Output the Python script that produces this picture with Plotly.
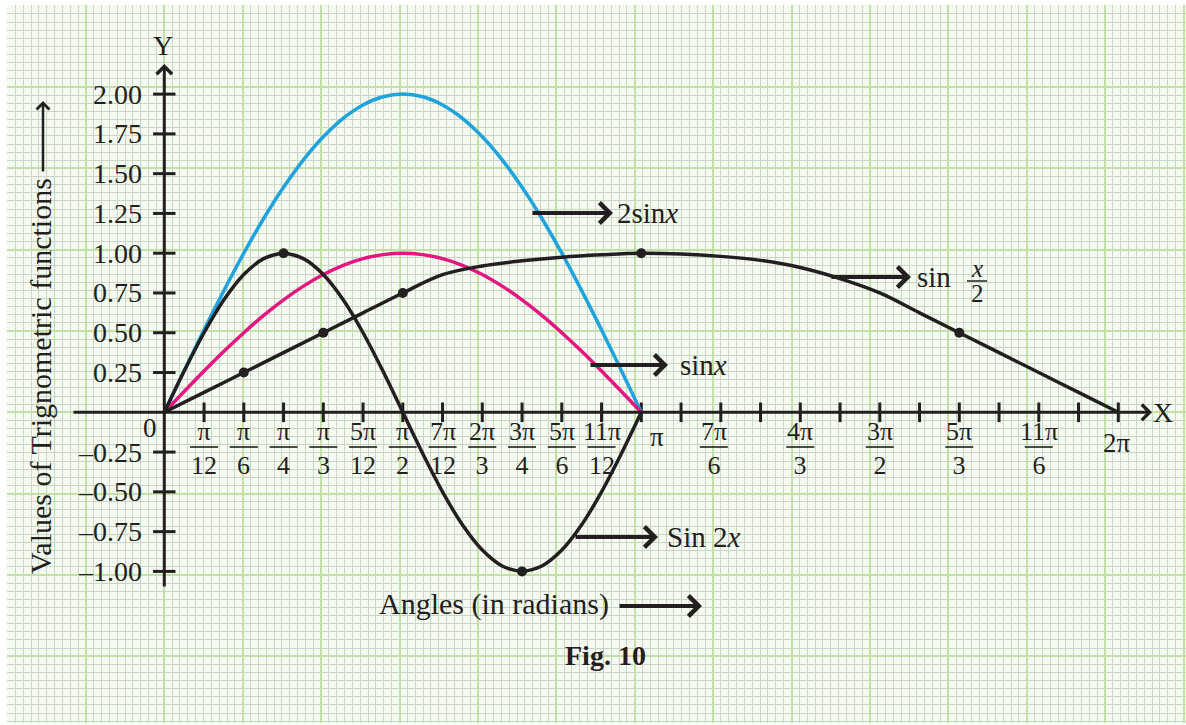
import math
import plotly.graph_objects as go

PI = math.pi

# ---------------- data ----------------
# 2sinx, sinx and sin2x sampled every pi/24 (k24 = multiples of pi/24)
k24 = list(range(25))
two_sinx = [0.000, 0.261, 0.518, 0.765, 1.000, 1.218, 1.414, 1.587, 1.732, 1.848, 1.932, 1.983, 2.000,
            1.983, 1.932, 1.848, 1.732, 1.587, 1.414, 1.218, 1.000, 0.765, 0.518, 0.261, 0.000]
sinx = [0.000, 0.131, 0.259, 0.383, 0.500, 0.609, 0.707, 0.793, 0.866, 0.924, 0.966, 0.991, 1.000,
        0.991, 0.966, 0.924, 0.866, 0.793, 0.707, 0.609, 0.500, 0.383, 0.259, 0.131, 0.000]
sin2x = [0.000, 0.259, 0.500, 0.707, 0.866, 0.966, 1.000, 0.966, 0.866, 0.707, 0.500, 0.259, 0.000,
         -0.259, -0.500, -0.707, -0.866, -0.966, -1.000, -0.966, -0.866, -0.707, -0.500, -0.259, 0.000]

# sin(x/2) as drawn in the figure, sampled every pi/12 (k12 = multiples of pi/12)
k12 = list(range(25))
sin_half = [0.00, 0.125, 0.25, 0.375, 0.50, 0.625, 0.75, 0.865, 0.92, 0.952, 0.975, 0.99, 1.00,
            0.995, 0.98, 0.955, 0.91, 0.84, 0.75, 0.625, 0.50, 0.375, 0.25, 0.125, 0.00]

sin2x_dot_k24 = [6, 18]
sin_half_dot_k12 = [2, 4, 6, 12, 20]

# axis ticks
x_tick_k12 = list(range(1, 25))
x_tick_frac = {1: ("π", "12"), 2: ("π", "6"), 3: ("π", "4"), 4: ("π", "3"),
               5: ("5π", "12"), 6: ("π", "2"), 7: ("7π", "12"), 8: ("2π", "3"),
               9: ("3π", "4"), 10: ("5π", "6"), 11: ("11π", "12"),
               14: ("7π", "6"), 16: ("4π", "3"), 18: ("3π", "2"),
               20: ("5π", "3"), 22: ("11π", "6")}
x_tick_single = {12: "π", 24: "2π"}
y_tick_vals = [-1.00, -0.75, -0.50, -0.25, 0.25, 0.50, 0.75, 1.00, 1.25, 1.50, 1.75, 2.00]
y_tick_text = ["–1.00", "–0.75", "–0.50", "–0.25", "0.25", "0.50", "0.75",
               "1.00", "1.25", "1.50", "1.75", "2.00"]

# ---------------- pixel calibration (layout only) ----------------
W, H = 1186, 725
X0PX, Y0PX = 164.3, 412.3
SX = 477.0 / PI        # px per radian
SY = 159.1             # px per unit
L, T, B = 7, 5, 2


def X(px):
    return (px - X0PX) / SX


def Y(py):
    return (Y0PX - py) / SY


def r12(k):
    return k * PI / 12


def r24(k):
    return k * PI / 24


FONT = "Liberation Serif, Times New Roman, serif"
INK = "#231f20"
CYAN = "#1ea3dc"
MAGENTA = "#e2177f"

fig = go.Figure()

# axis tick marks
fig.add_trace(go.Scatter(
    x=[r12(k) for k in x_tick_k12], y=[0] * len(x_tick_k12), mode="markers",
    marker=dict(symbol="line-ns", size=14, line=dict(width=3, color=INK)),
    hoverinfo="skip", showlegend=False))
fig.add_trace(go.Scatter(
    x=[0] * len(y_tick_vals), y=y_tick_vals, mode="markers",
    marker=dict(symbol="line-ew", size=16, line=dict(width=3, color=INK)),
    hoverinfo="skip", showlegend=False))

# curves
fig.add_trace(go.Scatter(x=[r24(k) for k in k24], y=two_sinx, mode="lines",
                         line=dict(color=CYAN, width=3.5, shape="spline", smoothing=0.8),
                         name="2sinx", showlegend=False))
fig.add_trace(go.Scatter(x=[r24(k) for k in k24], y=sinx, mode="lines",
                         line=dict(color=MAGENTA, width=3.5, shape="spline", smoothing=0.8),
                         name="sinx", showlegend=False))
fig.add_trace(go.Scatter(x=[r24(k) for k in k24], y=sin2x, mode="lines",
                         line=dict(color=INK, width=3.5, shape="spline", smoothing=0.8),
                         name="sin2x", showlegend=False))
fig.add_trace(go.Scatter(x=[r12(k) for k in k12], y=sin_half, mode="lines",
                         line=dict(color=INK, width=3.5, shape="spline", smoothing=1),
                         name="sin x/2", showlegend=False))
# dots
fig.add_trace(go.Scatter(x=[r24(k) for k in sin2x_dot_k24],
                         y=[sin2x[k24.index(k)] for k in sin2x_dot_k24],
                         mode="markers", marker=dict(color=INK, size=10),
                         showlegend=False, hoverinfo="skip"))
fig.add_trace(go.Scatter(x=[r12(k) for k in sin_half_dot_k12],
                         y=[sin_half[k12.index(k)] for k in sin_half_dot_k12],
                         mode="markers", marker=dict(color=INK, size=10),
                         showlegend=False, hoverinfo="skip"))

ann = []
shapes = []


def txt(px, py, s, size=27, xanchor="center", **kw):
    ann.append(dict(x=X(px), y=Y(py), xref="x", yref="y", text=s, showarrow=False,
                    font=dict(family=FONT, size=size, color=INK),
                    xanchor=xanchor, yanchor="middle", **kw))


def arrow(px0, py0, px1, py1, width=4, size=1.0):
    ann.append(dict(x=X(px1), y=Y(py1), ax=X(px0), ay=Y(py0), xref="x", yref="y",
                    axref="x", ayref="y", text="", showarrow=True, arrowhead=4,
                    arrowwidth=width, arrowsize=size, arrowcolor=INK, standoff=0))


# axes with arrow heads
arrow(72, Y0PX, 1152, Y0PX, width=3, size=1.0)
arrow(X0PX, 588, X0PX, 64, width=3, size=1.0)
txt(1163, 412, "X", size=28)
txt(163, 45, "Y", size=28)
txt(150, 428, "0", size=27)

# x tick labels (stacked fractions with a bar)
frac_off = {14: -7}
for k, (num, den) in x_tick_frac.items():
    cx = X0PX + r12(k) * SX + frac_off.get(k, 0)
    txt(cx, 448, num + "<br>" + den, size=26)
    shapes.append(dict(type="line", xref="x", yref="y", x0=X(cx - 14), x1=X(cx + 14),
                       y0=Y(447), y1=Y(447), line=dict(color=INK, width=1.6)))
single_off = {12: 16, 24: -1}
single_y = {12: 437, 24: 443}
for k, s in x_tick_single.items():
    txt(X0PX + r12(k) * SX + single_off[k], single_y[k], s)

# y tick labels
for v, s in zip(y_tick_vals, y_tick_text):
    ann.append(dict(x=0, y=v, xref="x", yref="y", text=s, showarrow=False,
                    font=dict(family=FONT, size=28, color=INK),
                    xanchor="right", yanchor="middle", xshift=-20))

# curve labels
arrow(531, 213, 613, 213)
txt(615, 213, "2sin<i>x</i>", size=29, xanchor="left")
arrow(589, 365, 668, 365)
txt(678, 365, "sin<i>x</i>", size=29, xanchor="left")
arrow(830, 277, 911, 277)
txt(915, 277, "sin", size=29, xanchor="left")
txt(977, 268, "<i>x</i>", size=25)
txt(977, 293, "2", size=25)
shapes.append(dict(type="line", xref="x", yref="y", x0=X(967), x1=X(987),
                   y0=Y(281), y1=Y(281), line=dict(color=INK, width=1.5)))
arrow(574, 537, 658, 537)
txt(665, 537, "Sin 2<i>x</i>", size=29, xanchor="left")

# axis titles
txt(377, 604, "Angles (in radians)", size=30, xanchor="left")
arrow(618, 606, 702, 606)
ann.append(dict(x=X(40), y=Y(376), xref="x", yref="y", text="Values of Trignometric functions",
                showarrow=False, textangle=-90,
                font=dict(family=FONT, size=30, color=INK),
                xanchor="center", yanchor="middle"))
arrow(43, 173, 43, 101, width=2.5, size=1.0)

txt(605, 655, "<b>Fig. 10</b>", size=28)

GRID_MAJOR = "#c3e0a6"
GRID_MINOR = "#c9d6c6"

fig.update_layout(
    width=W, height=H, autosize=False,
    margin=dict(l=L, r=0, t=T, b=B, pad=0),
    paper_bgcolor="white", plot_bgcolor="#f5faf0",
    showlegend=False,
    annotations=ann, shapes=shapes,
    xaxis=dict(range=[X(L), X(W)], showticklabels=False, ticks="", zeroline=False,
               showline=False, tick0=0, dtick=78.4 / SX,
               showgrid=True, gridcolor=GRID_MAJOR, gridwidth=2,
               minor=dict(dtick=7.84 / SX, showgrid=True, gridcolor=GRID_MINOR, gridwidth=1),
               fixedrange=True),
    yaxis=dict(range=[Y(H - B), Y(T)], showticklabels=False, ticks="", zeroline=False,
               showline=False, tick0=0, dtick=81.3 / SY,
               showgrid=True, gridcolor=GRID_MAJOR, gridwidth=2,
               minor=dict(dtick=8.13 / SY, showgrid=True, gridcolor=GRID_MINOR, gridwidth=1),
               fixedrange=True),
)

fig.write_html("out.html", config={"displayModeBar": False},
               post_script="document.body.style.margin='0';")
